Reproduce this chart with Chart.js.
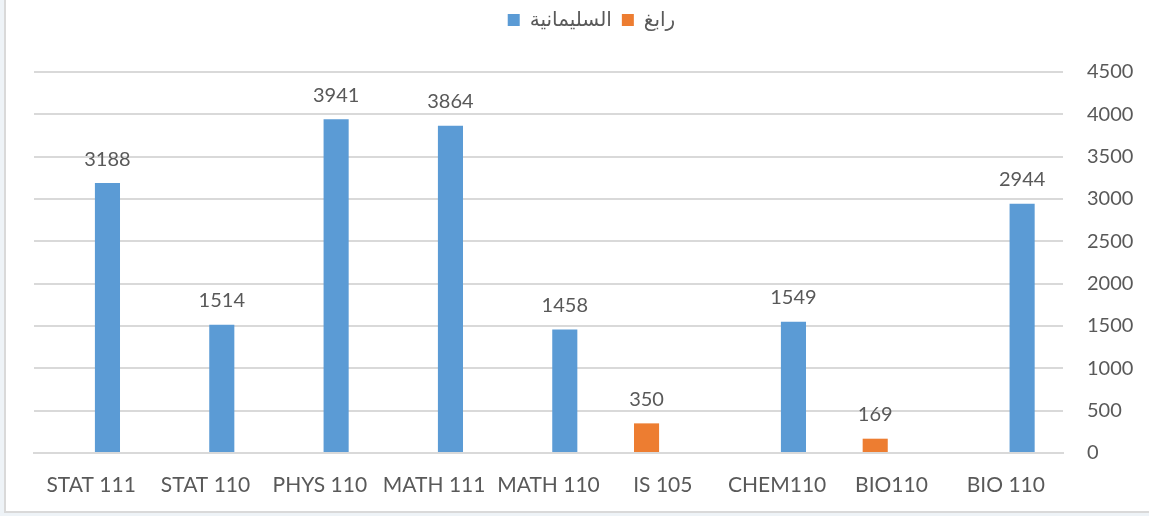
<!DOCTYPE html>
<html>
<head>
<meta charset="utf-8">
<script src="https://cdn.jsdelivr.net/npm/chart.js@4"></script>
<style>
  html, body { margin: 0; padding: 0; background: #eef3f7; }
  #frame {
    position: absolute; left: 4px; top: 0; width: 1145px; height: 513px;
    background: #fff; border-left: 2px solid #d9d9d9; border-bottom: 2px solid #d9d9d9;
    box-sizing: border-box;
  }
  #wrap { position: absolute; left: 0; top: 0; width: 1143px; height: 511px; }
</style>
</head>
<body>
<div id="frame"><div id="wrap"><canvas id="chart"></canvas></div></div>
<script>
// categories and values
const courses = ['STAT 111', 'STAT 110', 'PHYS 110', 'MATH 111', 'MATH 110', 'IS 105', 'CHEM110', 'BIO110', 'BIO 110'];
const rabighValues = [null, null, null, null, null, 350, null, 169, null];
const sulaymaniyahValues = [3188, 1514, 3941, 3864, 1458, null, 1549, null, 2944];
const yTicks = [0, 500, 1000, 1500, 2000, 2500, 3000, 3500, 4000, 4500];

const FONT = "Lato, 'DejaVu Sans', sans-serif";
const TEXT = '#595959';

// value labels above each bar
const barLabels = {
    id: 'barLabels',
    afterDatasetsDraw(chart) {
        const ctx = chart.ctx;
        ctx.save();
        ctx.font = '20px ' + FONT;
        ctx.fillStyle = TEXT;
        ctx.textAlign = 'center';
        ctx.textBaseline = 'bottom';
        chart.data.datasets.forEach((ds, i) => {
            chart.getDatasetMeta(i).data.forEach((bar, j) => {
                const v = ds.data[j];
                if (v == null) return;
                ctx.fillText(v, bar.x, bar.y - 14);
            });
        });
        ctx.restore();
    }
};

// leave more room between the legend and the plot
const legendGap = {
    id: 'legendGap',
    beforeInit(chart) {
        const fit = chart.legend.fit;
        chart.legend.fit = function () {
            fit.bind(chart.legend)();
            this.height += 32;
        };
    }
};

new Chart(document.getElementById('chart'), {
    type: 'bar',
    data: {
        labels: courses,
        datasets: [
            { label: 'رابغ', data: rabighValues, backgroundColor: '#ed7d31', categoryPercentage: 0.57, barPercentage: 0.77 },
            { label: 'السليمانية', data: sulaymaniyahValues, backgroundColor: '#5b9bd5', categoryPercentage: 0.57, barPercentage: 0.77 }
        ]
    },
    options: {
        responsive: true,
        maintainAspectRatio: false,
        animation: false,
        layout: { padding: { left: 28, right: 0, top: 0, bottom: 0 } },
        plugins: {
            legend: {
                position: 'top',
                reverse: true,
                labels: { color: TEXT, font: { family: FONT, size: 20 }, boxWidth: 12, boxHeight: 12, padding: 10 }
            },
            tooltip: { enabled: false }
        },
        scales: {
            x: {
                grid: { display: false },
                border: { color: '#d9d9d9', width: 2 },
                ticks: { color: TEXT, font: { family: FONT, size: 21 }, padding: 12, maxRotation: 0, autoSkip: false },
                afterFit(scale) { scale.height = 58; }
            },
            y: {
                position: 'right',
                min: 0, max: 4500,
                afterBuildTicks(scale) { scale.ticks = yTicks.map(v => ({ value: v })); },
                grid: { color: '#d9d9d9', lineWidth: 2, drawTicks: false },
                border: { display: false },
                ticks: { color: TEXT, font: { family: FONT, size: 20 }, padding: 24, callback: v => String(v) },
                afterFit(scale) { scale.width = 86; }
            }
        }
    },
    plugins: [barLabels, legendGap]
});
</script>
</body>
</html>
